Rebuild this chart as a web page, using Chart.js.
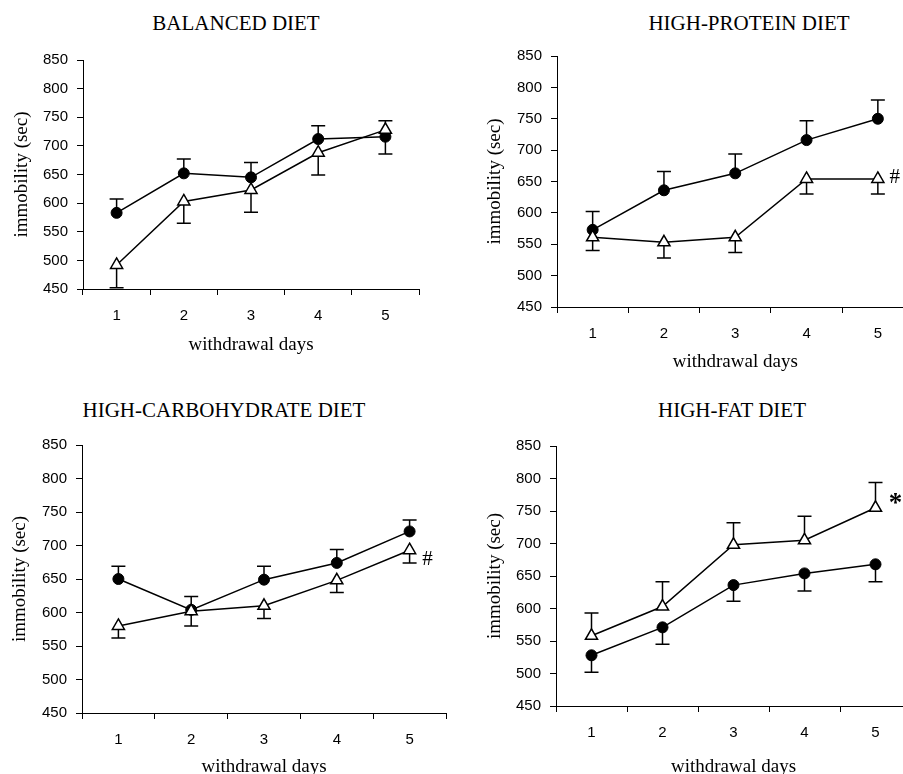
<!DOCTYPE html>
<html lang="en">
<head>
<meta charset="UTF-8">
<title>Immobility during withdrawal by diet</title>
<script src="https://cdn.jsdelivr.net/npm/chart.js"></script>
<style>
    html, body { margin: 0; padding: 0; background: #fff; width: 903px; height: 774px; overflow: hidden; }
    canvas { position: absolute; }
    .ptitle {
        position: absolute;
        font-family: "Liberation Serif", "Times New Roman", serif;
        font-size: 21px;
        line-height: 26px;
        color: #000;
        white-space: nowrap;
        transform: translateX(-50%);
    }
</style>
</head>
<body>
<div class="ptitle" style="left:236px; top:10px;">BALANCED DIET</div>
<div class="ptitle" style="left:749px; top:10px;">HIGH-PROTEIN DIET</div>
<div class="ptitle" style="left:224px; top:397px;">HIGH-CARBOHYDRATE DIET</div>
<div class="ptitle" style="left:732px; top:397px;">HIGH-FAT DIET</div>

<canvas id="balanced"></canvas>
<canvas id="protein"></canvas>
<canvas id="carb"></canvas>
<canvas id="fat"></canvas>

<script>
// x categories and y tick labels
const days = ['1', '2', '3', '4', '5'];
const yTicks = [450, 500, 550, 600, 650, 700, 750, 800, 850];

// error values are one-sided: positive = bar up, negative = bar down
const balancedFilled = [583, 652, 645, 712, 716];
const balancedFilledErr = [24, 25, 26, 23, -30];
const balancedOpen = [492, 603, 623, 688, 728];
const balancedOpenErr = [-40, -38, -39, -39, 16];

const proteinFilled = [573, 636, 663, 716, 750];
const proteinFilledErr = [29, 30, 31, 31, 30];
const proteinOpen = [561, 553, 561, 654, 654];
const proteinOpenErr = [-21, -25, -24, -24, -24];

const carbFilled = [650, 604, 649, 674, 721];
const carbFilledErr = [19, 20, 20, 20, 17];
const carbOpen = [580, 602, 610, 648, 693];
const carbOpenErr = [-18, -22, -19, -18, -19];

const fatFilled = [528, 571, 636, 654, 668];
const fatFilledErr = [-26, -26, -25, -27, -27];
const fatOpen = [558, 603, 698, 705, 755];
const fatOpenErr = [35, 38, 34, 37, 39];

const SERIF = '"Liberation Serif", "Times New Roman", serif';
const SANS = '"Liberation Sans", Arial, sans-serif';

// one-sided SEM bars with a cap, drawn under the markers
const errorBars = {
    id: 'errorBars',
    beforeDatasetsDraw(chart) {
        const { ctx, scales: { x, y } } = chart;
        ctx.save();
        ctx.strokeStyle = '#000';
        ctx.lineWidth = 1.5;
        chart.data.datasets.forEach(ds => {
            ds.errors.forEach((e, j) => {
                const px = x.getPixelForValue(j);
                const y0 = y.getPixelForValue(ds.data[j]);
                const y1 = y.getPixelForValue(ds.data[j] + e);
                ctx.beginPath();
                ctx.moveTo(px, y0);
                ctx.lineTo(px, y1);
                ctx.moveTo(px - 7, y1);
                ctx.lineTo(px + 7, y1);
                ctx.stroke();
            });
        });
        ctx.restore();
    }
};

// significance sign next to a point
function notePlugin(note) {
    return {
        id: 'note',
        afterDatasetsDraw(chart) {
            if (!note) return;
            const { ctx, scales: { x, y } } = chart;
            const ds = chart.data.datasets[note.dataset];
            const px = x.getPixelForValue(note.index) + note.dx;
            const py = y.getPixelForValue(ds.data[note.index]) + note.dy;
            ctx.save();
            ctx.font = note.font;
            ctx.fillStyle = '#000';
            ctx.textAlign = 'center';
            ctx.textBaseline = 'middle';
            ctx.fillText(note.text, px, py);
            ctx.restore();
        }
    };
}

function makePanel(id, box, area, yTitleX, filled, filledErr, open, openErr, note) {
    const c = document.getElementById(id);
    c.width = box.w;
    c.height = box.h;
    c.style.left = box.left + 'px';
    c.style.top = box.top + 'px';

    new Chart(c, {
        type: 'line',
        data: {
            labels: days,
            datasets: [
                {
                    data: filled, errors: filledErr, order: 1,
                    borderColor: '#000', borderWidth: 1.5, tension: 0,
                    pointStyle: 'circle', pointRadius: 5.5, pointBorderWidth: 1,
                    pointBackgroundColor: '#000', pointBorderColor: '#000'
                },
                {
                    data: open, errors: openErr, order: 0,
                    borderColor: '#000', borderWidth: 1.5, tension: 0,
                    pointStyle: 'triangle', pointRadius: 7, pointBorderWidth: 1.5,
                    pointBackgroundColor: '#fff', pointBorderColor: '#000'
                }
            ]
        },
        options: {
            responsive: false,
            animation: false,
            events: [],
            layout: { padding: { left: 0, bottom: 0, top: area.top - box.top, right: box.left + box.w - area.right } },
            plugins: { legend: { display: false }, tooltip: { enabled: false } },
            scales: {
                x: {
                    offset: true,
                    grid: { offset: true, drawOnChartArea: false, tickLength: 6, color: '#000', lineWidth: 1 },
                    border: { color: '#000', width: 1 },
                    ticks: { color: '#000', padding: 12, font: { family: SANS, size: 15 } },
                    title: { display: true, text: 'withdrawal days', color: '#000', padding: 0, font: { family: SERIF, size: 19 } },
                    afterFit(s) { s.height = box.top + box.h - area.bottom; }
                },
                y: {
                    min: yTicks[0],
                    max: yTicks[yTicks.length - 1],
                    afterBuildTicks(s) { s.ticks = yTicks.map(v => ({ value: v })); },
                    grid: { drawOnChartArea: false, tickLength: 6, color: '#000', lineWidth: 1 },
                    border: { color: '#000', width: 1 },
                    ticks: { color: '#000', padding: 9, font: { family: SANS, size: 15 } },
                    title: { display: true, text: 'immobility (sec)', color: '#000',
                             padding: { top: yTitleX - box.left - 11.4, bottom: 0 },
                             font: { family: SERIF, size: 19 } },
                    afterFit(s) { s.width = area.left - box.left; }
                }
            }
        },
        plugins: [errorBars, notePlugin(note)]
    });
}

makePanel('balanced',
    { left: 0, top: 40, w: 430, h: 316 },
    { left: 83, top: 60, right: 419, bottom: 289 }, 22,
    balancedFilled, balancedFilledErr, balancedOpen, balancedOpenErr, null);

makePanel('protein',
    { left: 462, top: 36, w: 460, h: 337 },
    { left: 557, top: 56, right: 915, bottom: 307 }, 495,
    proteinFilled, proteinFilledErr, proteinOpen, proteinOpenErr,
    { text: '#', dataset: 1, index: 4, dx: 17, dy: -2, font: '21px ' + SERIF });

makePanel('carb',
    { left: 0, top: 425, w: 456, h: 353 },
    { left: 82, top: 445, right: 446, bottom: 713 }, 20,
    carbFilled, carbFilledErr, carbOpen, carbOpenErr,
    { text: '#', dataset: 1, index: 4, dx: 18, dy: 9, font: '21px ' + SERIF });

makePanel('fat',
    { left: 462, top: 426, w: 460, h: 352 },
    { left: 556, top: 446, right: 911, bottom: 706 }, 495,
    fatFilled, fatFilledErr, fatOpen, fatOpenErr,
    { text: '*', dataset: 1, index: 4, dx: 20, dy: -4, font: 'bold 27px ' + SERIF });
</script>
</body>
</html>
